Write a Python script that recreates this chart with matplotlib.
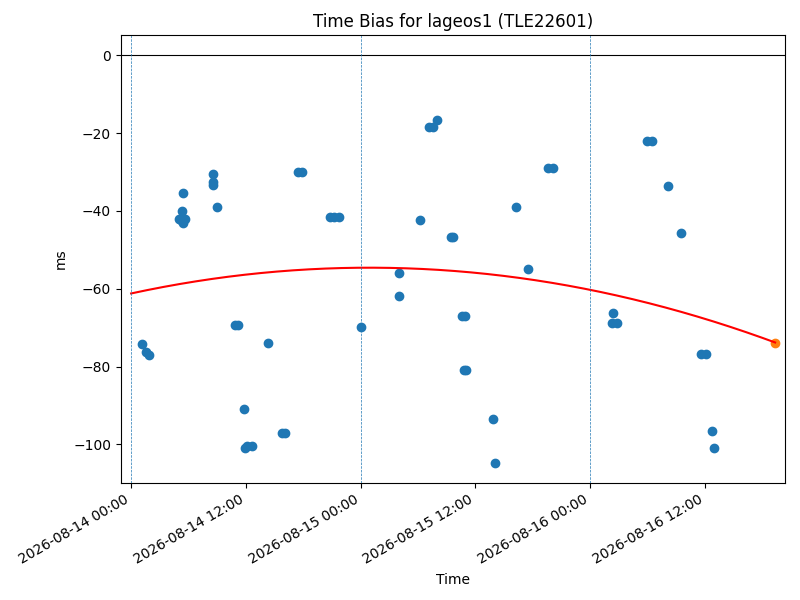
import numpy as np
import pandas as pd
import matplotlib
matplotlib.use("Agg")
import matplotlib.pyplot as plt
import matplotlib.dates as mdates

start = pd.Timestamp("2026-08-14 00:00")

# observation times (hours after start) and time bias (ms)
obs_hours = [1.15, 1.54, 1.85, 5.33, 5.04, 5.62, 5.44, 5.20, 5.44, 8.51, 8.51, 8.58, 8.99,
             10.84, 11.19, 11.82, 11.89, 12.15, 12.59, 14.33, 15.73, 16.07, 17.46, 17.92,
             20.83, 21.25, 21.72, 24.02, 28.03, 28.03, 30.22, 31.13, 31.58, 31.94,
             33.49, 33.70, 34.55, 34.90, 34.84, 35.05, 37.86, 38.07, 40.23, 41.52,
             43.55, 44.13, 50.41, 50.24, 50.76, 53.90, 54.42, 56.16, 57.52, 59.55, 60.07,
             60.76, 60.97]
obs_bias = [-74.3, -76.2, -77.1, -40.0, -42.0, -42.0, -43.2, -42.4, -35.3, -33.3, -32.5, -30.5, -39.1,
            -69.3, -69.3, -91.0, -101.0, -100.5, -100.5, -74.0, -97.2, -97.2, -30.1, -30.1,
            -41.5, -41.5, -41.5, -69.9, -55.9, -61.8, -42.4, -18.3, -18.3, -16.5,
            -46.6, -46.6, -67.0, -67.0, -81.0, -81.0, -93.5, -104.7, -39.1, -54.8,
            -29.0, -29.0, -66.2, -68.9, -68.9, -22.0, -22.0, -33.7, -45.6, -76.8, -76.8,
            -96.6, -100.9]

# predicted point at end
pred_hours = [67.35]
pred_bias = [-74.0]

# fitted trend (hours, ms)
fit_hours = [0, 12, 24, 36, 48, 60, 67.35]
fit_bias = [-61.2, -56.3, -54.7, -56.0, -60.2, -67.5, -74.0]

day_lines = ["2026-08-14", "2026-08-15", "2026-08-16"]

obs_t = start + pd.to_timedelta(obs_hours, unit="h")
pred_t = start + pd.to_timedelta(pred_hours, unit="h")

# quadratic trend through the read fit values
fh = np.array(fit_hours)
coef = np.polyfit(fh, np.array(fit_bias), 2)
grid_h = np.linspace(fh[0], fh[-1], 200)
grid_t = start + pd.to_timedelta(grid_h, unit="h")

fig, ax = plt.subplots(figsize=(8, 6), dpi=100)
ax.scatter(obs_t, obs_bias, color="C0")
ax.plot(grid_t, np.polyval(coef, grid_h), color="red")
ax.scatter(pred_t, pred_bias, color="C1")
ax.axhline(0, color="black", linewidth=0.8)
for d in day_lines:
    ax.axvline(pd.Timestamp(d), color="C0", linestyle="--", linewidth=0.5)

ax.set_xlim(start + pd.Timedelta(hours=-1.08), start + pd.Timedelta(hours=68.36))
ax.xaxis.set_major_locator(mdates.HourLocator(byhour=[0, 12]))
ax.xaxis.set_major_formatter(mdates.DateFormatter("%Y-%m-%d %H:%M"))
ax.set_title("Time Bias for lageos1 (TLE22601)")
ax.set_xlabel("Time")
ax.set_ylabel("ms")
for lbl in ax.get_xticklabels():
    lbl.set_rotation(30)
    lbl.set_ha("right")
fig.subplots_adjust(left=0.151, right=0.981, top=0.9417, bottom=0.195)
fig.savefig("out.png")
